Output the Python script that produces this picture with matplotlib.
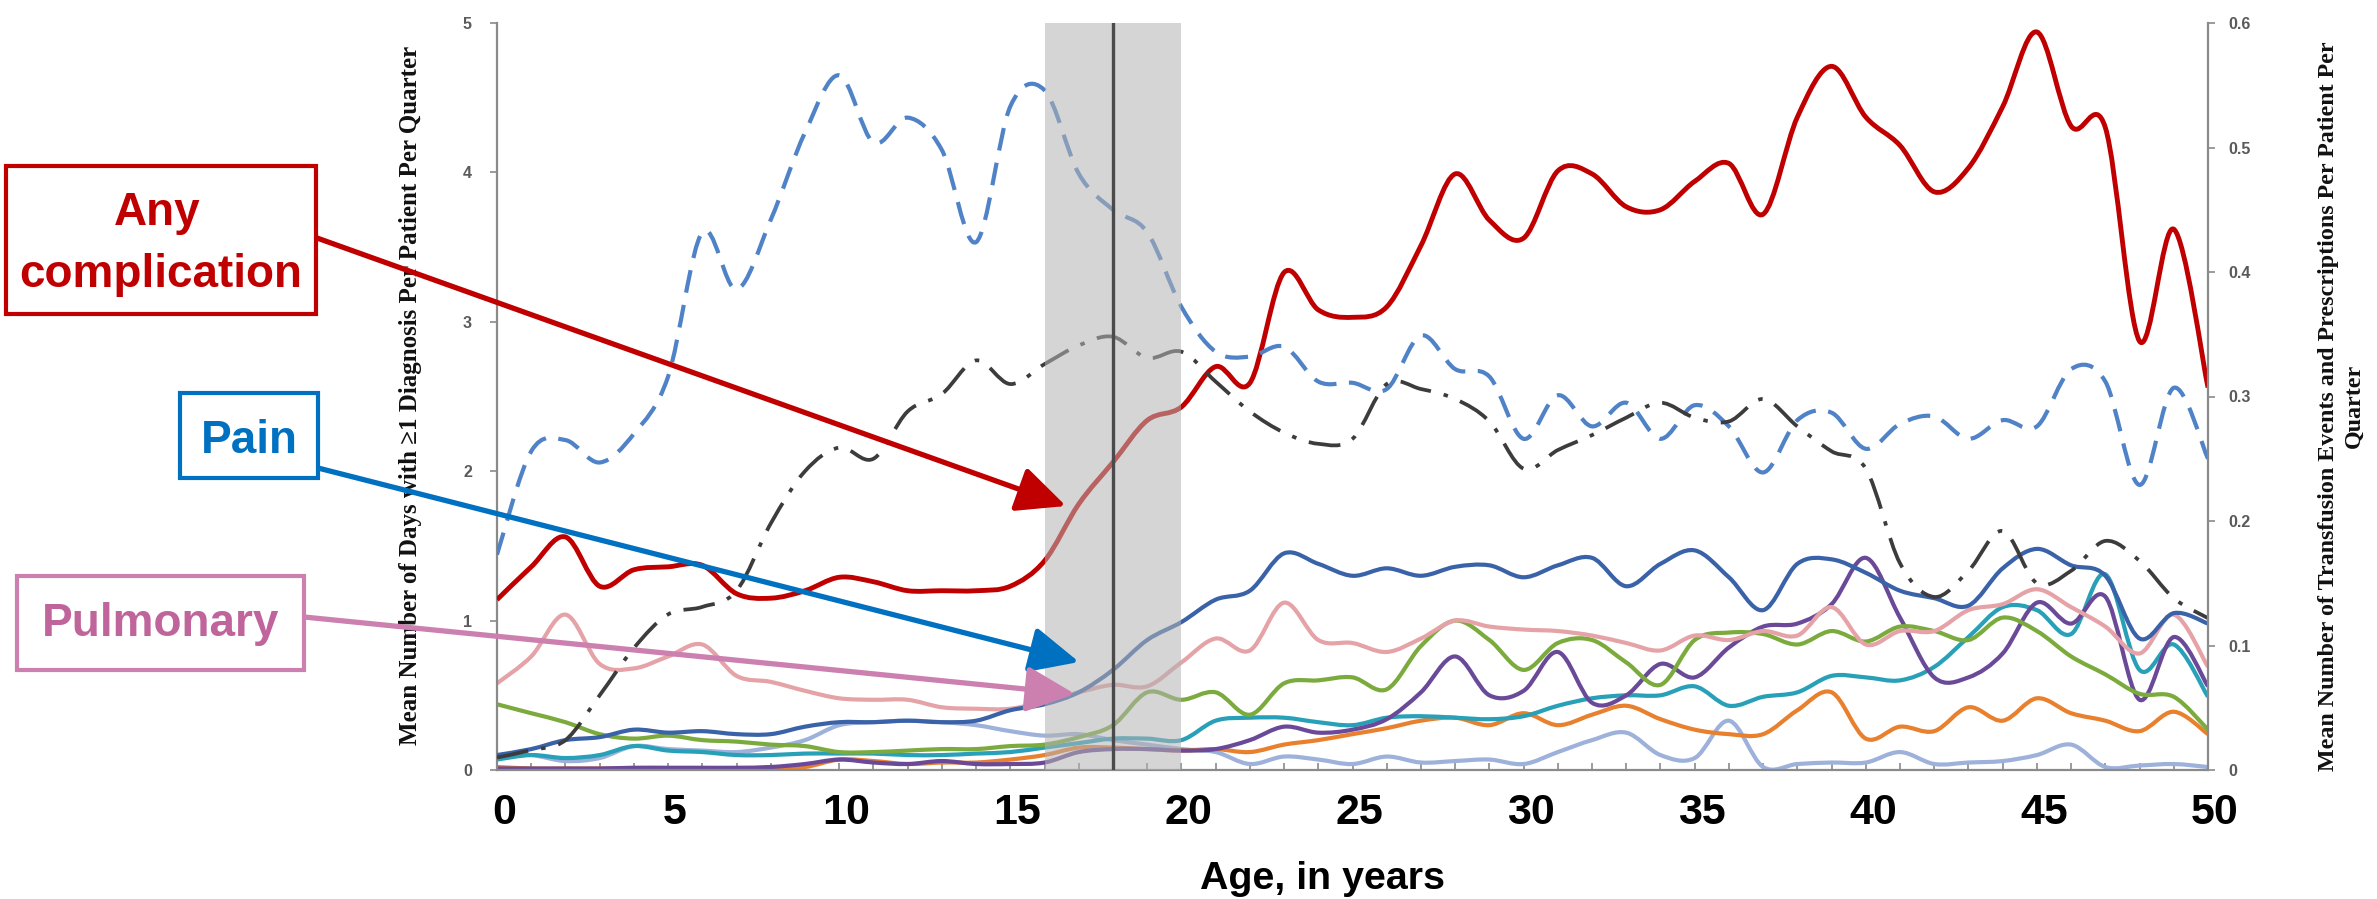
import numpy as np
import matplotlib
matplotlib.use("Agg")
import matplotlib.pyplot as plt
from matplotlib.path import Path
from matplotlib.patches import PathPatch, Rectangle, FancyArrowPatch
from matplotlib import font_manager as fm
from matplotlib.transforms import ScaledTranslation

# ---------------- data ----------------
ages = list(range(0, 51))

# left axis: mean number of days with >=1 diagnosis per patient per quarter
any_complication = [1.14, 1.36, 1.56, 1.23, 1.34, 1.36, 1.37, 1.18, 1.15, 1.20,
                    1.29, 1.26, 1.20, 1.20, 1.20, 1.23, 1.40, 1.78, 2.06, 2.34,
                    2.43, 2.70, 2.59, 3.33, 3.08, 3.03, 3.10, 3.51, 3.99, 3.68,
                    3.56, 4.01, 3.99, 3.77, 3.75, 3.94, 4.06, 3.72, 4.37, 4.71,
                    4.37, 4.18, 3.87, 4.03, 4.44, 4.94, 4.31, 4.30, 2.87, 3.62, 2.56]
pain = [0.10, 0.14, 0.20, 0.22, 0.27, 0.25, 0.26, 0.24, 0.24, 0.29,
        0.32, 0.32, 0.33, 0.32, 0.33, 0.40, 0.44, 0.52, 0.67, 0.87,
        0.99, 1.14, 1.20, 1.45, 1.38, 1.30, 1.35, 1.30, 1.36, 1.37,
        1.29, 1.37, 1.42, 1.23, 1.38, 1.47, 1.29, 1.07, 1.38, 1.41,
        1.32, 1.20, 1.15, 1.10, 1.35, 1.48, 1.37, 1.30, 0.88, 1.05, 0.98]
pulmonary = [0.58, 0.76, 1.04, 0.71, 0.68, 0.76, 0.84, 0.63, 0.59, 0.53,
             0.48, 0.47, 0.47, 0.42, 0.41, 0.41, 0.46, 0.52, 0.57, 0.56,
             0.72, 0.88, 0.80, 1.12, 0.87, 0.85, 0.79, 0.88, 1.00, 0.96,
             0.94, 0.93, 0.90, 0.85, 0.80, 0.90, 0.87, 0.93, 0.90, 1.09,
             0.84, 0.93, 0.93, 1.07, 1.11, 1.21, 1.09, 0.96, 0.78, 1.04, 0.69]
green_series = [0.44, 0.38, 0.32, 0.24, 0.21, 0.23, 0.20, 0.19, 0.17, 0.16,
                0.12, 0.12, 0.13, 0.14, 0.14, 0.16, 0.17, 0.22, 0.30, 0.52,
                0.47, 0.52, 0.37, 0.58, 0.60, 0.62, 0.54, 0.83, 1.00, 0.87,
                0.67, 0.85, 0.87, 0.72, 0.57, 0.87, 0.92, 0.91, 0.84, 0.93,
                0.86, 0.96, 0.93, 0.87, 1.02, 0.93, 0.76, 0.64, 0.51, 0.49, 0.27]
purple_series = [0.01, 0.01, 0.01, 0.01, 0.015, 0.015, 0.015, 0.015, 0.02, 0.04,
                 0.07, 0.05, 0.04, 0.06, 0.04, 0.04, 0.05, 0.12, 0.14, 0.14,
                 0.13, 0.14, 0.20, 0.29, 0.25, 0.27, 0.34, 0.52, 0.76, 0.50,
                 0.53, 0.79, 0.45, 0.50, 0.71, 0.62, 0.82, 0.96, 0.98, 1.11,
                 1.42, 1.02, 0.62, 0.62, 0.78, 1.12, 0.98, 1.16, 0.47, 0.89, 0.56]
teal_series = [0.07, 0.10, 0.08, 0.10, 0.16, 0.13, 0.12, 0.10, 0.10, 0.11,
               0.11, 0.11, 0.10, 0.10, 0.11, 0.12, 0.15, 0.18, 0.21, 0.21,
               0.20, 0.33, 0.35, 0.35, 0.32, 0.30, 0.35, 0.36, 0.35, 0.34,
               0.36, 0.43, 0.48, 0.50, 0.50, 0.56, 0.43, 0.49, 0.52, 0.63,
               0.62, 0.60, 0.69, 0.89, 1.09, 1.07, 0.91, 1.31, 0.67, 0.84, 0.49]
orange_series = [0.02, 0.01, 0.01, 0.01, 0.01, 0.01, 0.01, 0.01, 0.015, 0.02,
                 0.07, 0.06, 0.04, 0.05, 0.05, 0.07, 0.10, 0.15, 0.15, 0.14,
                 0.13, 0.14, 0.12, 0.17, 0.20, 0.24, 0.28, 0.33, 0.35, 0.30,
                 0.38, 0.30, 0.37, 0.43, 0.34, 0.27, 0.24, 0.24, 0.40, 0.52,
                 0.21, 0.29, 0.26, 0.42, 0.33, 0.48, 0.38, 0.33, 0.26, 0.39, 0.24]
lavender_series = [0.10, 0.10, 0.06, 0.08, 0.16, 0.14, 0.13, 0.12, 0.15, 0.20,
                   0.30, 0.32, 0.33, 0.32, 0.30, 0.26, 0.23, 0.24, 0.20, 0.17,
                   0.14, 0.12, 0.04, 0.09, 0.07, 0.04, 0.09, 0.05, 0.06, 0.07,
                   0.04, 0.12, 0.20, 0.25, 0.10, 0.08, 0.33, 0.02, 0.04, 0.05,
                   0.05, 0.12, 0.04, 0.05, 0.06, 0.10, 0.17, 0.02, 0.03, 0.04, 0.02]

# right axis: mean number of transfusion events and prescriptions per patient per quarter
dashed_series = [0.173, 0.256, 0.265, 0.247, 0.270, 0.316, 0.432, 0.386, 0.442, 0.512,
                 0.558, 0.504, 0.524, 0.498, 0.424, 0.533, 0.546, 0.479, 0.450, 0.432,
                 0.372, 0.336, 0.332, 0.340, 0.312, 0.311, 0.306, 0.349, 0.322, 0.316,
                 0.266, 0.301, 0.276, 0.295, 0.266, 0.293, 0.276, 0.239, 0.281, 0.287,
                 0.258, 0.278, 0.284, 0.266, 0.281, 0.276, 0.322, 0.312, 0.229, 0.307, 0.250]
dashdot_series = [0.010, 0.016, 0.024, 0.060, 0.098, 0.125, 0.131, 0.144, 0.198, 0.240,
                  0.259, 0.250, 0.288, 0.302, 0.329, 0.310, 0.326, 0.341, 0.348, 0.331,
                  0.336, 0.312, 0.288, 0.271, 0.262, 0.266, 0.310, 0.306, 0.298, 0.280,
                  0.242, 0.257, 0.269, 0.283, 0.295, 0.283, 0.280, 0.298, 0.276, 0.256,
                  0.242, 0.166, 0.139, 0.160, 0.192, 0.150, 0.160, 0.184, 0.168, 0.138, 0.122]

x_ticks = [0, 5, 10, 15, 20, 25, 30, 35, 40, 45, 50]
left_ticks = [0, 1, 2, 3, 4, 5]
right_ticks = [0, 0.1, 0.2, 0.3, 0.4, 0.5, 0.6]
right_tick_labels = ["0", "0.1", "0.2", "0.3", "0.4", "0.5", "0.6"]
transition_span = (16, 20)
transition_age = 18

left_label = "Mean Number of Days with \u22651 Diagnosis Per Patient Per Quarter"
right_label = "Mean Number of Transfusion Events and Prescriptions Per Patient Per\nQuarter"
x_label = "Age, in years"

# ---------------- helpers ----------------
W, H = 2377, 899


def has_font(name):
    try:
        fm.findfont(fm.FontProperties(family=name), fallback_to_default=False)
        return True
    except Exception:
        return False


NARROW = "Liberation Sans Narrow" if has_font("Liberation Sans Narrow") else "Liberation Sans"
NARROW_SCALE = 1.0 if NARROW == "Liberation Sans Narrow" else 0.86
SANS = "Liberation Sans" if has_font("Liberation Sans") else "DejaVu Sans"
SERIF = "Liberation Serif" if has_font("Liberation Serif") else "DejaVu Serif"


def fx(x):
    return x / W


def fy(y):
    return 1 - y / H


def smooth_path(xs, ys):
    pts = np.column_stack([xs, ys]).astype(float)
    n = len(pts)
    verts = [pts[0]]
    codes = [Path.MOVETO]
    for i in range(n - 1):
        p0 = pts[i - 1] if i > 0 else pts[i]
        p1 = pts[i]
        p2 = pts[i + 1]
        p3 = pts[i + 2] if i + 2 < n else pts[i + 1]
        c1 = p1 + (p2 - p0) / 6.0
        c2 = p2 - (p3 - p1) / 6.0
        verts += [c1, c2, p2]
        codes += [Path.CURVE4] * 3
    return Path(verts, codes)


def add_curve(axis, xs, ys, color, lw, ls="solid", z=2):
    patch = PathPatch(smooth_path(xs, ys), fill=False, edgecolor=color, lw=lw,
                      linestyle=ls, capstyle="butt", joinstyle="round", zorder=z)
    axis.add_patch(patch)
    return patch


# ---------------- figure ----------------
fig = plt.figure(figsize=(W / 100, H / 100), dpi=100)
fig.patch.set_facecolor("white")
ax = fig.add_axes([fx(497), fy(770), fx(2208) - fx(497), fy(23) - fy(770)])
ax2 = ax.twinx()

ax.set_xlim(0, 50)
ax.set_ylim(0, 5)
ax2.set_ylim(0, 0.6)

axis_gray = "#8a8a8a"
for a in (ax, ax2):
    a.spines["top"].set_visible(False)
    for s in ("left", "right", "bottom"):
        a.spines[s].set_color(axis_gray)
        a.spines[s].set_linewidth(1.6)
ax.spines["right"].set_visible(False)
ax2.spines["left"].set_visible(False)
ax2.spines["bottom"].set_visible(False)

# left-axis series
add_curve(ax, ages, lavender_series, "#9DB1DA", 3.0, z=2)
add_curve(ax, ages, orange_series, "#E8802E", 3.0, z=2.1)
add_curve(ax, ages, teal_series, "#27A0B8", 3.0, z=2.2)
add_curve(ax, ages, purple_series, "#6A4A98", 3.0, z=2.3)
add_curve(ax, ages, green_series, "#7BAA3D", 3.0, z=2.4)
add_curve(ax, ages, pulmonary, "#E5A3A8", 3.0, z=2.5)
add_curve(ax, ages, pain, "#3A62A8", 3.0, z=2.6)
add_curve(ax, ages, any_complication, "#C00000", 3.5, z=2.9)

# right-axis series
add_curve(ax2, ages, dashed_series, "#4F82C6", 3.0, ls=(0, (5.5, 3.0)), z=2)
add_curve(ax2, ages, dashdot_series, "#3C3C3C", 2.7, ls=(0, (8.5, 3.5, 1.2, 3.5)), z=2.1)

# transition shading and line
ax2.axvspan(transition_span[0], transition_span[1], color="#b3b3b3", alpha=0.55, lw=0, zorder=10)
ax2.axvline(transition_age, color="#4a4a4a", lw=2.4, zorder=11)

# x ticks
ax.set_xticks(x_ticks)
ax.set_xticks(ages, minor=True)
ax.set_xticklabels([str(t) for t in x_ticks], fontfamily=NARROW, fontweight="bold",
                   fontsize=36 * NARROW_SCALE, color="black")
ax.tick_params(axis="x", which="both", direction="in", length=5, width=1.2,
               color=axis_gray, pad=16.5)
offset = ScaledTranslation(7 / 100, 0, fig.dpi_scale_trans)
for lab in ax.get_xticklabels():
    lab.set_transform(lab.get_transform() + offset)

# left y ticks
ax.set_yticks(left_ticks)
ax.set_yticklabels([str(t) for t in left_ticks], fontfamily=SANS, fontweight="bold",
                   fontsize=11.5, color="#5a5a5a")
ax.tick_params(axis="y", direction="out", length=5, width=1.2, color=axis_gray, pad=13)

# right y ticks
ax2.set_yticks(right_ticks)
ax2.set_yticklabels(right_tick_labels, fontfamily=SANS, fontweight="bold",
                    fontsize=11.5, color="#5a5a5a")
ax2.tick_params(axis="y", direction="out", length=5, width=1.2, color=axis_gray, pad=10)

# axis titles
fig.text(fx(411), fy(395), left_label, rotation=90, ha="center", va="center",
         fontfamily=SERIF, fontweight="bold", fontsize=18, color="#111111")
fig.text(fx(2341), fy(406), right_label, rotation=90, ha="center", va="center",
         multialignment="center", linespacing=1.3,
         fontfamily=SERIF, fontweight="bold", fontsize=17.3, color="#111111")
fig.text(fx(1322), fy(889), x_label, ha="center", va="baseline",
         fontfamily=NARROW, fontweight="bold", fontsize=33 * NARROW_SCALE, color="black")

# ---------------- callouts ----------------
callouts = [
    # (box x0, y0, x1, y1), border color, text lines [(text, cx, baseline)], text color, arrow start, arrow tip
    ((6, 166, 316, 314), "#C00000", [("Any", 157, 225), ("complication", 161, 287)], "#C00000",
     (317, 238), (1066, 506)),
    ((180, 393, 318, 478), "#0070C0", [("Pain", 249, 453)], "#0070C0",
     (318, 468), (1079, 662)),
    ((17, 576, 304, 670), "#CC80B0", [("Pulmonary", 161, 636)], "#C0649C",
     (304, 617), (1075, 694)),
]

for (x0, y0, x1, y1), bcol, lines, tcol, start, tip in callouts:
    arr = FancyArrowPatch((fx(start[0]), fy(start[1])), (fx(tip[0]), fy(tip[1])),
                          transform=fig.transFigure,
                          arrowstyle="-|>,head_length=1.5,head_width=0.7",
                          mutation_scale=20, color=bcol, lw=3.8, shrinkA=0, shrinkB=0, zorder=20)
    fig.add_artist(arr)
    rect = Rectangle((fx(x0), fy(y1)), fx(x1) - fx(x0), fy(y0) - fy(y1), transform=fig.transFigure,
                     facecolor="white", edgecolor=bcol, lw=3.0, zorder=21)
    fig.add_artist(rect)
    for txt, cx, base in lines:
        fig.text(fx(cx), fy(base), txt, ha="center", va="baseline", fontfamily=SANS,
                 fontweight="bold", fontsize=33, color=tcol, zorder=22)

fig.savefig("out.png", dpi=100, facecolor="white")
